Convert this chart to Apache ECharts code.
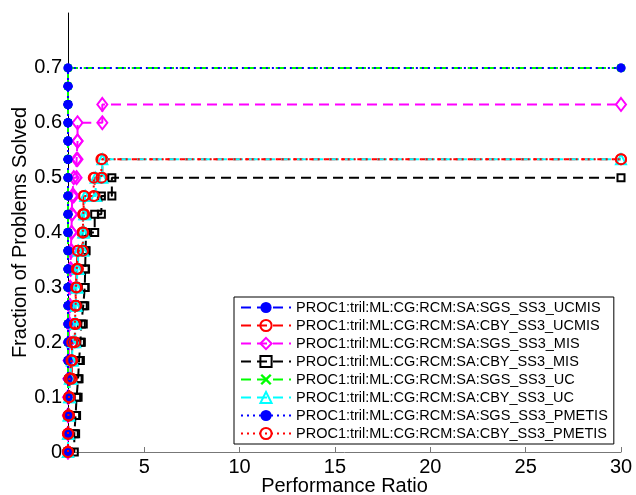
<!DOCTYPE html>
<html>
<head>
<meta charset="utf-8">
<script src="https://cdn.jsdelivr.net/npm/echarts@6/dist/echarts.min.js"></script>
<style>
  html, body { margin: 0; padding: 0; background: #fff; }
  #chart { width: 636px; height: 495px; }
</style>
</head>
<body>
<div id="chart"></div>
<script>
// Performance profile: sorted performance ratios of the solved problems per solver.
const nProblems = 30;
const ratioMax = 30;

const seriesNames = [
  'PROC1:tril:ML:CG:RCM:SA:SGS_SS3_UCMIS',
  'PROC1:tril:ML:CG:RCM:SA:CBY_SS3_UCMIS',
  'PROC1:tril:ML:CG:RCM:SA:SGS_SS3_MIS',
  'PROC1:tril:ML:CG:RCM:SA:CBY_SS3_MIS',
  'PROC1:tril:ML:CG:RCM:SA:SGS_SS3_UC',
  'PROC1:tril:ML:CG:RCM:SA:CBY_SS3_UC',
  'PROC1:tril:ML:CG:RCM:SA:SGS_SS3_PMETIS',
  'PROC1:tril:ML:CG:RCM:SA:CBY_SS3_PMETIS'
];

const ratiosSgsUcmis = [1,1,1,1,1,1,1,1,1,1,1,1,1,1,1,1,1,1,1,1,1];
const ratiosCbyUcmis = [1.0,1.03,1.06,1.08,1.2,1.22,1.35,1.38,1.42,1.45,1.5,1.75,1.8,1.82,2.4,2.8];
const ratiosSgsMis = [1.0,1.0,1.0,1.02,1.03,1.05,1.05,1.08,1.1,1.12,1.15,1.18,1.2,1.22,1.3,1.45,1.5,1.5,2.8];
const ratiosCbyMis = [1.33,1.4,1.45,1.53,1.58,1.65,1.7,1.8,1.88,1.9,1.92,1.95,2.4,2.75,3.3];
const ratiosSgsUc = [1,1,1,1,1,1,1,1,1,1,1,1,1,1,1,1,1,1,1,1,1];
const ratiosCbyUc = [1.0,1.03,1.06,1.1,1.2,1.25,1.38,1.4,1.45,1.5,1.55,1.8,1.85,1.9,2.45,2.8];
const ratiosSgsPmetis = [1,1,1,1,1,1,1,1,1,1,1,1,1,1,1,1,1,1,1,1,1];
const ratiosCbyPmetis = [1.0,1.02,1.05,1.08,1.18,1.22,1.36,1.4,1.42,1.46,1.52,1.78,1.8,1.85,2.35,2.75];

const xTicks = [5, 10, 15, 20, 25, 30];
const yTicks = [0, 0.1, 0.2, 0.3, 0.4, 0.5, 0.6, 0.7];

// Staircase vertices: every corner carries a marker.
function stairs(r) {
  const pts = [[1, 0]];
  r.forEach((v, i) => {
    pts.push([v, i / nProblems]);
    pts.push([v, (i + 1) / nProblems]);
  });
  pts.push([ratioMax, r.length / nProblems]);
  return pts;
}

const NOFILL = 'rgba(255,255,255,0)';
const DASH = [10, 6];
const DOT = [2, 4];
const CROSS = 'path://M0,1.5L1.5,0L5,3.5L8.5,0L10,1.5L6.5,5L10,8.5L8.5,10L5,6.5L1.5,10L0,8.5L3.5,5Z';

const styles = [
  { data: ratiosSgsUcmis, color: '#0000ff', dash: DASH, symbol: 'circle', size: 9, fill: true },
  { data: ratiosCbyUcmis, color: '#ff0000', dash: DASH, symbol: 'circle', size: 10, fill: false },
  { data: ratiosSgsMis, color: '#ff00ff', dash: DASH, symbol: 'diamond', size: [10, 13], fill: false },
  { data: ratiosCbyMis, color: '#000000', dash: DASH, symbol: 'rect', size: 7, fill: false },
  { data: ratiosSgsUc, color: '#00ff00', dash: DASH, symbol: CROSS, size: 8, fill: true },
  { data: ratiosCbyUc, color: '#00ffff', dash: DASH, symbol: 'triangle', size: 10, fill: false },
  { data: ratiosSgsPmetis, color: '#0000ff', dash: DOT, symbol: 'circle', size: 9, fill: true },
  { data: ratiosCbyPmetis, color: '#ff0000', dash: DOT, symbol: 'circle', size: 10, fill: false }
];

const FONT = '"Liberation Sans", Arial, Helvetica, sans-serif';

const series = styles.map((s, i) => ({
  name: seriesNames[i],
  type: 'line',
  data: stairs(s.data),
  showSymbol: true,
  showAllSymbol: true,
  symbol: s.symbol,
  symbolSize: s.size,
  clip: false,
  animation: false,
  lineStyle: { color: s.color, width: 2, type: s.dash },
  itemStyle: s.fill
    ? { color: s.color, borderWidth: 0 }
    : { color: NOFILL, borderColor: s.color, borderWidth: 2 },
  emphasis: { disabled: true },
  z: 2 + i
}));

const chart = echarts.init(document.getElementById('chart'), null, { renderer: 'canvas' });
chart.setOption({
  backgroundColor: '#ffffff',
  textStyle: { fontFamily: FONT },
  grid: { left: 68, right: 15, top: 13, bottom: 43, containLabel: false, outerBoundsMode: 'none' },
  xAxis: {
    type: 'value',
    min: 1,
    max: ratioMax,
    name: 'Performance Ratio',
    nameLocation: 'middle',
    nameGap: 24,
    nameMoveOverlap: false,
    nameTextStyle: { fontSize: 20, color: '#000', fontFamily: FONT, verticalAlign: 'top' },
    axisLine: { show: true, lineStyle: { color: '#777', width: 1 } },
    axisTick: { show: true, inside: true, length: 5, customValues: xTicks, lineStyle: { color: '#777' } },
    axisLabel: { customValues: xTicks, fontSize: 20, color: '#000', margin: 5, fontFamily: FONT },
    splitLine: { show: false }
  },
  yAxis: {
    type: 'value',
    min: 0,
    max: 0.8,
    interval: 0.1,
    name: 'Fraction of Problems Solved',
    nameLocation: 'middle',
    nameGap: 38,
    nameMoveOverlap: false,
    nameTextStyle: { fontSize: 20, color: '#000', fontFamily: FONT, verticalAlign: 'bottom' },
    axisLine: { show: true, lineStyle: { color: '#000', width: 1 } },
    axisTick: { show: false },
    axisLabel: {
      fontSize: 20, color: '#000', margin: 6, fontFamily: FONT,
      formatter: v => {
        const t = yTicks.find(y => Math.abs(y - v) < 1e-9);
        return t === undefined ? '' : (t === 0 ? '0' : t.toFixed(1));
      }
    },
    splitLine: { show: false }
  },
  legend: {
    orient: 'vertical',
    left: 234,
    bottom: 51,
    padding: [3, 6, 3, 6],
    itemWidth: 50,
    itemHeight: 14,
    itemGap: 3,
    backgroundColor: '#fff',
    borderColor: '#000',
    borderWidth: 1,
    textStyle: { fontSize: 14.5, color: '#000', fontFamily: FONT },
    selectedMode: false,
    data: seriesNames
  },
  series: series
});
</script>
</body>
</html>
